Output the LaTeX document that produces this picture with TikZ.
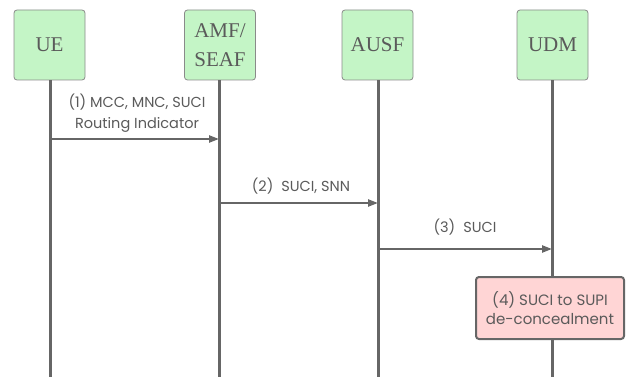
\documentclass[tikz,border=0pt]{standalone}
\usepackage{fontspec}
\setmainfont{Liberation Serif}
\newfontfamily\lblfont{Poppins}
\usetikzlibrary{arrows.meta}
\definecolor{lgray}{HTML}{666666}
\definecolor{bgreen}{HTML}{C4F5C6}
\definecolor{bborder}{HTML}{8A8A8A}
\definecolor{pinkf}{HTML}{FFD5D5}
\definecolor{txt}{HTML}{5A5A5A}
\begin{document}
\begin{tikzpicture}[x=1pt,y=-1pt,
  entity/.style={draw=bborder,fill=bgreen,rounded corners=3pt,line width=0.8pt,
    minimum width=71pt,minimum height=70pt,inner sep=0pt,align=center,
    text=txt,font=\fontsize{21}{29}\selectfont},
  life/.style={draw=lgray,line width=3pt},
  msg/.style={draw=lgray,line width=2.2pt,-{Triangle[length=10pt,width=7pt]}},
  lbl/.style={text=txt,font=\lblfont\fontsize{14.5}{21}\selectfont,align=center,inner sep=0pt},
  procbox/.style={draw=lgray,fill=pinkf,rounded corners=3pt,line width=2pt,
    minimum width=148pt,minimum height=62pt,align=center,text=txt,
    font=\lblfont\fontsize{15}{19}\selectfont,inner sep=0pt}]
\useasboundingbox (0,0) rectangle (628,377);
\node[entity] (ue) at (49.5,45) {UE};
\node[entity] (amf) at (220,45) {AMF/\\SEAF};
\node[entity] (ausf) at (377.5,45) {AUSF};
\node[entity] (udm) at (552.5,45) {UDM};
\coordinate (ueb) at (50,377);
\coordinate (amfb) at (219,377);
\coordinate (ausfb) at (378,377);
\coordinate (udmb) at (552,377);
\draw[life] (ue.south -| ueb) -- (ueb);
\draw[life] (amf.south -| amfb) -- (amfb);
\draw[life] (ausf.south -| ausfb) -- (ausfb);
\draw[life] (udm.south -| udmb) -- (udmb);
\coordinate (m1s) at (50,139);
\coordinate (m1e) at (219,139);
\coordinate (m2s) at (219,203);
\coordinate (m2e) at (378,203);
\coordinate (m3s) at (378,249);
\coordinate (m3e) at (552,249);
\draw[msg] (m1s) -- (m1e);
\draw[msg] (m2s) -- (m2e);
\draw[msg] (m3s) -- (m3e);
\node[lbl] (l1) at (137,113) {(1) MCC, MNC, SUCI\\Routing Indicator};
\node[lbl] (l2) at (301,186) {(2)\hspace{8pt}SUCI, SNN};
\node[lbl] (l3) at (465,227) {(3)\hspace{8pt}SUCI};
\node[procbox] (p4) at (550,308) {(4) SUCI to SUPI\\de-concealment};
\end{tikzpicture}
\end{document}
